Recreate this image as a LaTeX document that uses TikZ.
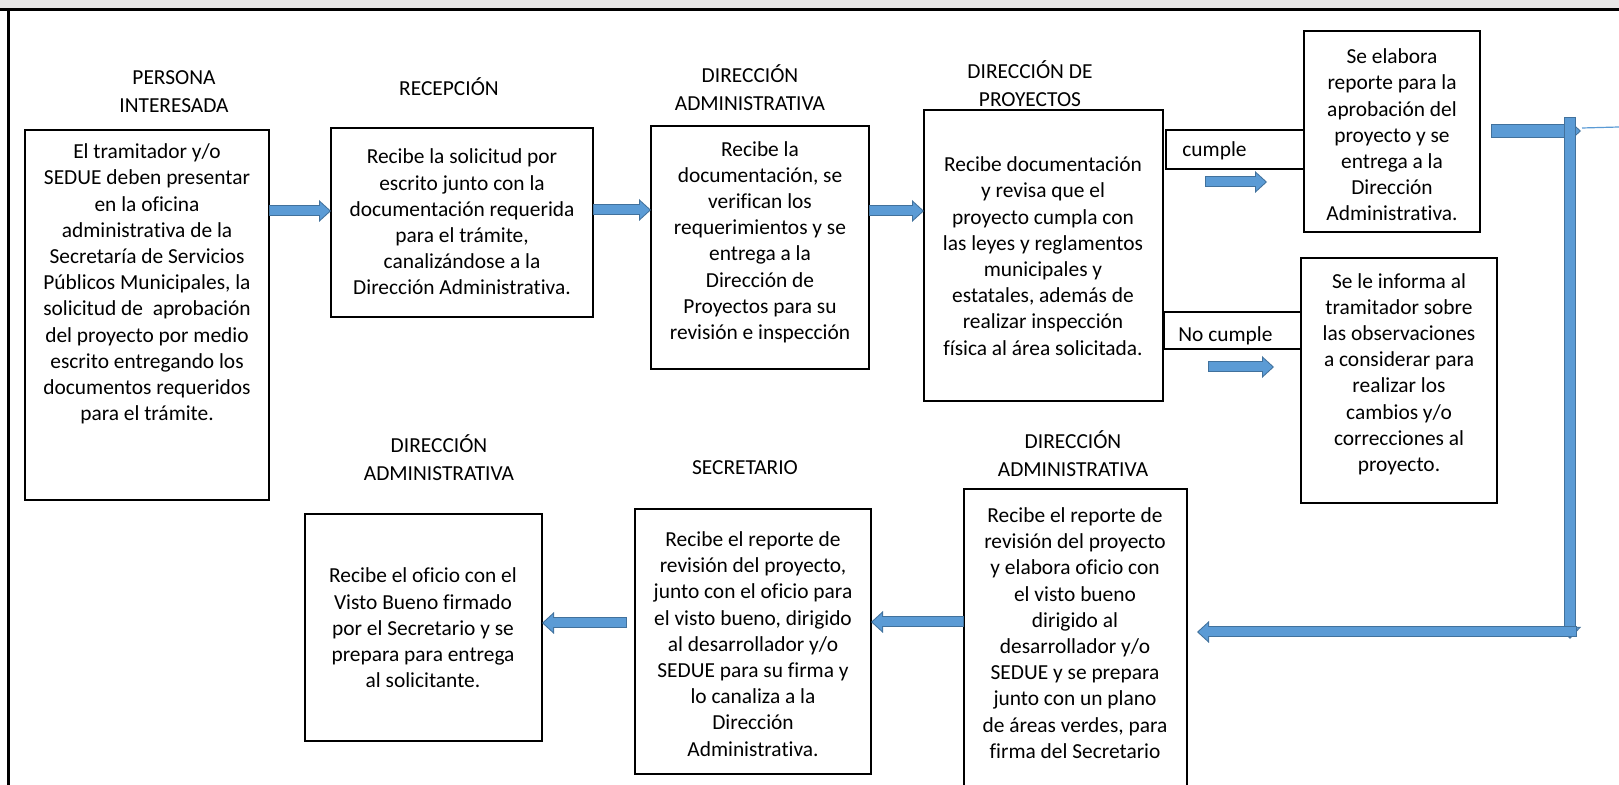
\documentclass[tikz,border=0pt]{standalone}
\usepackage{fontspec}
\setmainfont[Ligatures={NoCommon}]{Carlito}
\usetikzlibrary{arrows.meta, positioning}
\definecolor{bandgray}{HTML}{E7E6E6}
\definecolor{arrowblue}{HTML}{5B9BD5}
\definecolor{arrowline}{HTML}{41719C}
\tikzset{
  box/.style={draw, line width=0.9pt, outer sep=0pt, inner sep=0pt, anchor=north west},
  txt/.style={align=center, inner sep=0pt, font=\fontsize{10.7}{13.1}\selectfont},
  head/.style={align=center, inner sep=0pt, font=\fontsize{10.7}{14}\selectfont},
  arrowedge/.style={draw=arrowline, -{Triangle[width=11pt, length=6pt, line width=0pt]}},
  arrowfill/.style={draw=arrowblue, shorten <=0.5pt, shorten >=0.75pt, -{Triangle[width=8.7pt, length=4.75pt, line width=0pt]}}
}
\newcommand{\blockarrow}[3][5.5pt]{%
  \draw[arrowedge, line width=#1] (#2) -- (#3);
  \draw[arrowfill, line width=#1-1pt] (#2) -- (#3);
}

\begin{document}
\begin{tikzpicture}[x=0.5pt, y=-0.5pt]
\clip (0,0) rectangle (1619,785);
\fill[bandgray] (0,0) rectangle (1619,9.5);
\draw[line width=1.5pt] (0,9.5) -- (1619,9.5);
\draw[line width=1.5pt] (8.7,9.5) -- (8.7,785);

\node[head] (h1) at (174,92) {PERSONA\\INTERESADA};
\node[head] (h2) at (449,87) {RECEPCIÓN};
\node[head] (h3) at (750,88) {DIRECCIÓN\\ADMINISTRATIVA};
\node[head] (h4) at (1030,84) {DIRECCIÓN DE\\PROYECTOS};
\node[head] (h12) at (1073,454) {DIRECCIÓN\\ADMINISTRATIVA};
\node[head] (h13) at (745,468) {SECRETARIO};
\node[head] (h14) at (439,458) {DIRECCIÓN\\ADMINISTRATIVA};

\node[box, minimum width=122pt, minimum height=185pt] (b1) at (25,130) {};
\node[box, minimum width=131pt, minimum height=94.5pt] (b2) at (331,128) {};
\node[box, minimum width=109pt, minimum height=121.5pt] (b3) at (651,126) {};
\node[box, minimum width=119.5pt, minimum height=145.5pt] (b4) at (924,110) {};
\node[box, minimum width=69pt, minimum height=19.5pt] (si) at (1166,130) {};
\node[box, minimum width=68.5pt, minimum height=18.5pt] (no) at (1164,312) {};
\node[box, minimum width=88pt, minimum height=100.5pt] (b6) at (1304,31) {};
\node[box, minimum width=98pt, minimum height=122.5pt] (b10) at (1301,258) {};
\node[box, minimum width=111.5pt, minimum height=160pt] (b12) at (964,489) {};
\node[box, minimum width=118pt, minimum height=132.5pt] (b13) at (635,509) {};
\node[box, minimum width=118.5pt, minimum height=113.5pt] (b14) at (305,514) {};

\node[txt] (t1) at (147,284) {El tramitador y/o\\SEDUE deben presentar\\en la oficina\\administrativa de la\\Secretaría de Servicios\\Públicos Municipales, la\\solicitud de~ aprobación\\del proyecto por medio\\escrito entregando los\\documentos requeridos\\para el trámite.};
\node[txt] (t2) at (462,222) {Recibe la solicitud por\\escrito junto con la\\documentación requerida\\para el trámite,\\canalizándose a la\\Dirección Administrativa.};
\node[txt] (t3) at (760,242) {Recibe la\\documentación, se\\verifican los\\requerimientos y se\\entrega a la\\Dirección de\\Proyectos para su\\revisión e inspección};
\node[txt] (t4) at (1043,256) {Recibe documentación\\y revisa que el\\proyecto cumpla con\\las leyes y reglamentos\\municipales y\\estatales, además de\\realizar inspección\\física al área solicitada.};
\node[txt, anchor=west] (ts) at (1182,151) {cumple};
\node[txt, anchor=west] (tn) at (1178,336) {No cumple};
\node[txt] (t6) at (1392,135) {Se elabora\\reporte para la\\aprobación del\\proyecto y se\\entrega a la\\Dirección\\Administrativa.};
\node[txt] (t10) at (1399,374) {Se le informa al\\tramitador sobre\\las observaciones\\a considerar para\\realizar los\\cambios y/o\\correcciones al\\proyecto.};
\node[txt] (t12) at (1075,633) {Recibe el reporte de\\revisión del proyecto\\y elabora oficio con\\el visto bueno\\dirigido al\\desarrollador y/o\\SEDUE y se prepara\\junto con un plano\\de áreas verdes, para\\firma del Secretario};
\node[txt] (t13) at (753,644) {Recibe el reporte de\\revisión del proyecto,\\junto con el oficio para\\el visto bueno, dirigido\\al desarrollador y/o\\SEDUE para su firma y\\lo canaliza a la\\Dirección\\Administrativa.};
\node[txt] (t14) at (423,628) {Recibe el oficio con el\\Visto Bueno firmado\\por el Secretario y se\\prepara para entrega\\al solicitante.};

\coordinate (p1) at (269,211);
\coordinate (p2) at (593,210);
\coordinate (p3) at (869,211);
\coordinate (s1) at (1205,182);
\coordinate (s2) at (1267,182);
\coordinate (n1) at (1208,367);
\coordinate (n2) at (1274,367);
\coordinate (r1) at (1491,131);
\coordinate (r2) at (1581,131);
\coordinate (v1) at (1570,117);
\coordinate (v2) at (1570,639);
\coordinate (u1) at (1577,632);
\coordinate (u2) at (1197,632);
\coordinate (q1) at (964,622);
\coordinate (q2) at (627,623);

\blockarrow{p1}{p1 -| b2.west}
\blockarrow{p2}{p2 -| b3.west}
\blockarrow{p3}{p3 -| b4.west}
\blockarrow{s1}{s2}
\blockarrow{n1}{n2}
\blockarrow[7pt]{r1}{r2}
\blockarrow[6pt]{v1}{v2}
\blockarrow[5.5pt]{u1}{u2}
\blockarrow{q1}{q1 -| b13.east}
\blockarrow{q2}{q2 -| b14.east}
\draw[arrowblue, line width=0.6pt] (1582,128) -- (1619,127);
\end{tikzpicture}
\end{document}
